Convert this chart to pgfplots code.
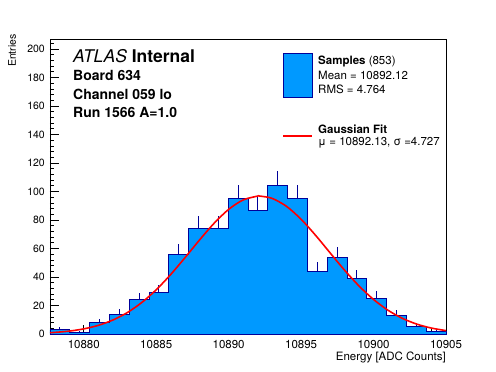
\documentclass[border=0pt]{standalone}
\usepackage{pgfplots}
\pgfplotsset{compat=1.18}
\usepackage{fontspec}
\setmainfont{TeX Gyre Heros}
\definecolor{histfill}{RGB}{0,153,255}
\definecolor{histline}{RGB}{0,0,153}
\definecolor{fitred}{RGB}{255,0,0}
\begin{document}
\begin{tikzpicture}[x=1pt,y=1pt]
\useasboundingbox (-50,-38) rectangle (446,334);
\begin{axis}[
  scale only axis, width=396pt, height=295pt,
  at={(0,0)}, anchor=south west,
  xmin=10877.67, xmax=10905, ymin=0, ymax=207,
  xtick={10880,10885,10890,10895,10900,10905},
  xticklabels={10880,10885,10890,10895,10900,10905},
  scaled x ticks=false,
  minor xtick={10878,10879,...,10904},
  ytick={0,20,...,200},
  minor ytick={0,4,...,204},
  xtick pos=left, ytick pos=left,
  tick align=inside,
  major tick length=9pt, minor tick length=4.5pt,
  tick style={black, line width=0.6pt},
  axis line style={line width=0.8pt},
  /pgf/number format/assume math mode=true,
  /pgf/number format/1000 sep={},
  xticklabel style={font=\fontsize{11.5}{12}\selectfont, inner sep=0pt, yshift=-6.5pt},
  yticklabel style={font=\fontsize{10.5}{12}\selectfont, inner sep=0pt, xshift=-5pt},
  xlabel={Energy [ADC Counts]},
  xlabel style={at={(axis description cs:1,0)}, anchor=north east, inner sep=0pt, yshift=-17.5pt, font=\fontsize{11.5}{12}\selectfont},
  ylabel={Entries},
  ylabel style={at={(axis description cs:-0.106,1.017)}, anchor=north east, inner sep=0pt, font=\fontsize{10.5}{12}\selectfont},
  clip=false,
]
% histogram (bin left edges, counts)
\addplot[const plot, fill=histfill, draw=histline, line width=0.9pt] coordinates {
(10877.670,3) (10879.037,1) (10880.403,8) (10881.770,14) (10883.136,24)
(10884.503,29) (10885.869,56) (10887.236,74) (10888.602,74) (10889.969,95)
(10891.335,87) (10892.702,104) (10894.068,95) (10895.435,44) (10896.801,54)
(10898.168,39) (10899.534,25) (10900.901,13) (10902.267,5) (10903.634,2)
(10905.000,2)} \closedcycle;
% statistical error bars (upper part)
\addplot[draw=none, mark=none, forget plot,
  error bars/.cd, y dir=plus, y explicit, error mark=none,
  error bar style={draw=histline, solid, line width=0.9pt}]
  table[x=x, y=y, y error=e] {
x y e
10878.353 3 1.732
10879.720 1 1.000
10881.086 8 2.828
10882.453 14 3.742
10883.819 24 4.899
10885.186 29 5.385
10886.552 56 7.483
10887.919 74 8.602
10889.285 74 8.602
10890.652 95 9.747
10892.018 87 9.327
10893.385 104 10.198
10894.751 95 9.747
10896.118 44 6.633
10897.484 54 7.348
10898.851 39 6.245
10900.217 25 5.000
10901.584 13 3.606
10902.950 5 2.236
10904.317 2 1.414
};
% Gaussian fit curve
\addplot[draw=fitred, line width=1.6pt, smooth] coordinates {
(10877.67,0.92) (10878,1.11) (10879,2.04) (10880,3.60) (10881,6.05)
(10882,9.75) (10883,15.0) (10884,22.06) (10885,31.03) (10886,41.75)
(10887,53.72) (10888,66.09) (10889,77.75) (10890,87.46) (10891,94.07)
(10892,96.76) (10892.13,96.8) (10893,95.17) (10894,89.51) (10895,80.51)
(10896,69.23) (10897,56.94) (10898,44.78) (10899,33.67) (10900,24.21)
(10901,16.65) (10902,10.95) (10903,6.88) (10904,4.14) (10905,2.38)};
% legend line for the fit
\draw[draw=fitred, line width=1.6pt] (axis description cs:0.5884,0.6722) -- (axis description cs:0.6616,0.6722);
\end{axis}
% text block
\node[anchor=base west, inner sep=0pt, font=\fontsize{17.5}{18}\selectfont] at (23,271) {\textit{ATLAS} \textbf{Internal}};
\node[anchor=base west, inner sep=0pt, font=\fontsize{14}{15}\selectfont\bfseries] at (23,253) {Board 634};
\node[anchor=base west, inner sep=0pt, font=\fontsize{14}{15}\selectfont\bfseries] at (23,234.5) {Channel 059 lo};
\node[anchor=base west, inner sep=0pt, font=\fontsize{14}{15}\selectfont\bfseries] at (23,216.7) {Run 1566 A=1.0};
% legend
\filldraw[fill=histfill, draw=histline, line width=0.9pt] (233,237) rectangle (262,281);
\node[anchor=base west, inner sep=0pt, font=\fontsize{11.5}{12}\selectfont] at (268,269) {\textbf{Samples} (853)};
\node[anchor=base west, inner sep=0pt, font=\fontsize{11.5}{12}\selectfont] at (268,254) {Mean = 10892.12};
\node[anchor=base west, inner sep=0pt, font=\fontsize{11.5}{12}\selectfont] at (268,240) {RMS = 4.764};
\node[anchor=base west, inner sep=0pt, font=\fontsize{11.5}{12}\selectfont] at (268,200) {\textbf{Gaussian Fit}};
\node[anchor=base west, inner sep=0pt, font=\fontsize{11.5}{12}\selectfont] at (268,188) {μ = 10892.13, σ =4.727};
\end{tikzpicture}
\end{document}
